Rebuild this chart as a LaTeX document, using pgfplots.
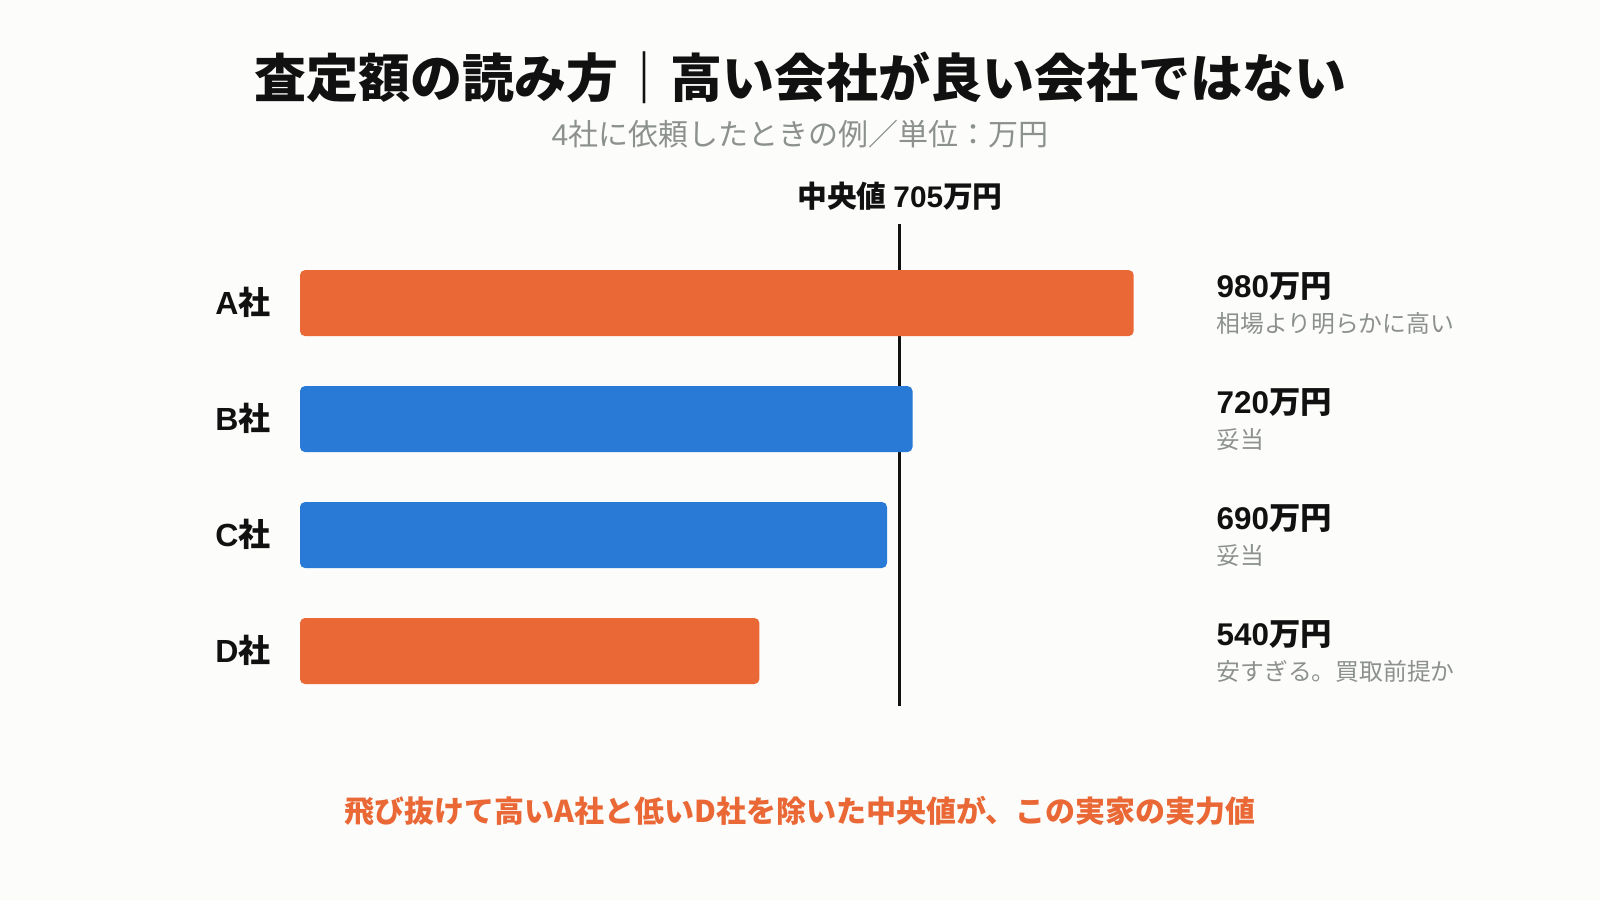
\documentclass[border=0pt]{standalone}
\usepackage{pgfplots}
\pgfplotsset{compat=1.18}
\usepackage{fontspec}
\setmainfont{Noto Sans CJK JP}
\newfontfamily\lat{Liberation Sans}

\definecolor{bg}{HTML}{FCFCFA}
\definecolor{orng}{HTML}{EA6835}
\definecolor{blu}{HTML}{2979D6}
\definecolor{ink}{HTML}{111111}
\definecolor{grey}{HTML}{8C918E}

\newcommand{\fs}[1]{\fontsize{#1}{#1}\selectfont}

\begin{document}
\begin{tikzpicture}
\fill[bg] (0,0) rectangle (800pt,450pt);

\begin{axis}[
  at={(150pt,95.5pt)}, anchor=south west,
  scale only axis, width=467.9pt, height=231.95pt,
  xmin=0, xmax=1100, ymin=-0.5, ymax=3.5, y dir=reverse,
  xtick=\empty, ytick={0,1,2,3},
  yticklabels={{\lat A}社,{\lat B}社,{\lat C}社,{\lat D}社},
  yticklabel style={font=\bfseries\fs{16pt}, text=ink, anchor=base east,
    inner sep=0pt, xshift=-14.5pt, yshift=-5.5pt},
  axis line style={draw=none}, major tick length=0pt,
  clip=false,
]
% median line (drawn first, bars cover it)
\addplot[ink, line width=1.5pt] coordinates {(705,-0.678) (705,3.475)};

% bars
\addplot[xbar, bar width=33pt, bar shift=0pt, draw=none, fill=orng,
  rounded corners=2.5pt] coordinates {(980,0) (540,3)};
\addplot[xbar, bar width=33pt, bar shift=0pt, draw=none, fill=blu,
  rounded corners=2.5pt] coordinates {(720,1) (690,2)};

% right annotations
\begin{scope}[every node/.style={anchor=base west, inner sep=0pt}]
\node[text=ink, font=\bfseries\fs{15.7pt}] at (axis cs:1077,-0.047) {{\lat 980}万円};
\node[text=grey, font=\fs{11.9pt}] at (axis cs:1077,0.25) {相場より明らかに高い};
\node[text=ink, font=\bfseries\fs{15.7pt}] at (axis cs:1077,0.953) {{\lat 720}万円};
\node[text=grey, font=\fs{11.9pt}] at (axis cs:1077,1.25) {妥当};
\node[text=ink, font=\bfseries\fs{15.7pt}] at (axis cs:1077,1.953) {{\lat 690}万円};
\node[text=grey, font=\fs{11.9pt}] at (axis cs:1077,2.25) {妥当};
\node[text=ink, font=\bfseries\fs{15.7pt}] at (axis cs:1077,2.953) {{\lat 540}万円};
\node[text=grey, font=\fs{11.9pt}] at (axis cs:1077,3.25) {安すぎる。買取前提か};
\end{scope}
\end{axis}

% titles and notes
\node[anchor=base, inner sep=0pt, text=ink, font=\bfseries\fs{26pt}] at (400pt,401.35pt)
  {査定額の読み方｜高い会社が良い会社ではない};
\node[anchor=base, inner sep=0pt, text=grey, font=\fs{15pt}] at (400pt,377.3pt)
  {{\lat 4}社に依頼したときの例／単位：万円};
\node[anchor=base, inner sep=0pt, text=ink, font=\bfseries\fs{14.9pt}] at (450pt,346.15pt)
  {中央値 {\lat 705}万円};
\node[anchor=base, inner sep=0pt, text=orng, font=\bfseries\fs{15pt}] at (400pt,38.7pt)
  {飛び抜けて高いA社と低いD社を除いた中央値が、この実家の実力値};

\pgfresetboundingbox
\useasboundingbox (0,0) rectangle (800pt,450pt);
\end{tikzpicture}
\end{document}
